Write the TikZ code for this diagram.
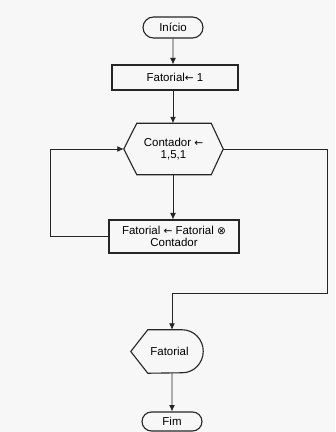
\documentclass[tikz,border=0pt]{standalone}
\usepackage{fontspec}
\setmainfont{Liberation Sans}
\newfontfamily\symfont{DejaVu Sans}
\usetikzlibrary{arrows.meta,shapes.misc}
\begin{document}
\begin{tikzpicture}[x=0.03cm,y=-0.03cm,
    font=\fontsize{9.8}{10.8}\selectfont,
    box/.style={draw=black!85,line width=0.95pt},
    flow/.style={draw=black!85,line width=0.7pt,-{Latex[length=5.5pt,width=5pt]}},
    line/.style={draw=black!85,line width=0.7pt}]
    \fill[gray!6] (0,0) rectangle (335,432);
    \useasboundingbox (0,0) rectangle (335,432);
    \node[box,rounded rectangle,minimum width=1.8cm,minimum height=0.63cm,inner sep=0pt] (inicio) at (173,27.5) {Início};
    \node[box,rectangle,minimum width=3.78cm,minimum height=0.75cm,inner sep=0pt] (fat1) at (175,77.5) {Fatorial{\symfont\small←} 1};
    \node[rectangle,minimum width=2.97cm,minimum height=1.53cm,inner sep=0pt,align=center] (cont) at (173.5,149) {Contador {\symfont\small←}\\1,5,1};
    \draw[box] (cont.west) -- ([xshift=0.39cm]cont.north west) -- ([xshift=-0.36cm]cont.north east) -- (cont.east)
        -- ([xshift=-0.36cm]cont.south east) -- ([xshift=0.39cm]cont.south west) -- cycle;
    \node[box,rectangle,minimum width=3.9cm,minimum height=0.99cm,inner sep=0pt,align=center] (mult) at (174,236.5) {Fatorial {\symfont\small←} Fatorial {\symfont\small⊗}\\Contador};
    \node[rectangle,minimum width=2.16cm,minimum height=1.29cm,inner sep=0pt] (saida) at (167,351.5) {\hspace{0.15cm}Fatorial};
    \draw[box] (saida.west) -- ([xshift=0.51cm]saida.north west) -- ([xshift=-0.63cm]saida.north east)
        arc[start angle=90,end angle=-90,x radius=0.63cm,y radius=0.645cm] -- ([xshift=0.51cm]saida.south west) -- cycle;
    \node[box,rounded rectangle,minimum width=1.8cm,minimum height=0.57cm,inner sep=0pt] (fim) at (172,421.5) {Fim};
    \coordinate (voltal) at (50,149);
    \coordinate (voltar) at (327,293);
    \draw[flow] (inicio) -- (fat1.north -| inicio.south);
    \draw[flow] (fat1.south -| inicio.south) -- (cont.north -| inicio.south);
    \draw[flow] (cont.south -| inicio.south) -- (mult.north -| inicio.south);
    \draw[flow] (mult.west) -| (voltal) -- (cont.west);
    \draw[flow] (cont.east) -| (voltar) -| (saida.north -| fim.north);
    \draw[flow] (saida.south -| fim.north) -- (fim);
\end{tikzpicture}
\end{document}
